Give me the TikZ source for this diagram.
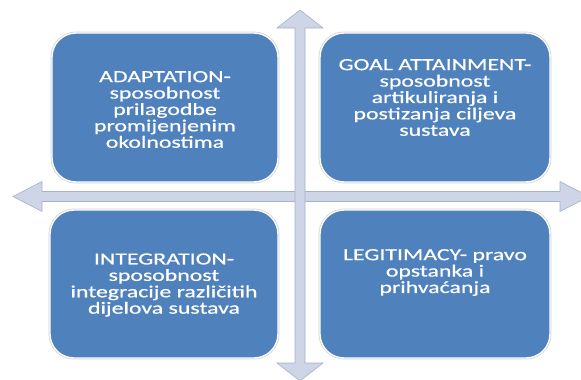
\documentclass[tikz,border=0pt]{standalone}
\usepackage{fontspec}
\setmainfont{Carlito}
\newfontfamily\boxfont[FakeStretch=1.4,FakeBold=0.6]{Carlito}
\usetikzlibrary{positioning}

\definecolor{boxblue}{RGB}{79,129,189}
\definecolor{arrowfill}{RGB}{206,213,230}
\definecolor{arrowline}{RGB}{165,177,201}

\begin{document}
\begin{tikzpicture}[x=1pt,y=-1pt,
    quad/.style={rectangle, rounded corners=24pt, fill=boxblue, draw=white, line width=1.4pt,
      preaction={draw=black!18, line width=2.8pt}},
    txt/.style={align=center, text=white, font=\boxfont\fontsize{17}{16.4}\selectfont, inner sep=0pt},
    blockarrow/.style={fill=arrowfill, draw=arrowline, line width=0.6pt}]
   \useasboundingbox (0,0) rectangle (581,380);
   \clip (0,0) rectangle (581,380);
   % block arrows
   \coordinate (left) at (13,196.5);
   \coordinate (right) at (589,196.5);
   \coordinate (top) at (300,10);
   \coordinate (bottom) at (300,381);
   \draw[blockarrow] (left) -- ++(29,-15) -- ++(0,10) -- ([xshift=-29pt,yshift=5pt]right)
      -- ++(0,-10) -- (right) -- ++(-29,15) -- ++(0,-10) -- ([xshift=29pt,yshift=-5pt]left)
      -- ++(0,10) -- cycle;
   \draw[blockarrow] (top) -- ++(23,18) -- ++(-18,0) -- ([xshift=5pt,yshift=18pt]bottom)
      -- ++(18,0) -- (bottom) -- ++(-23,-18) -- ++(18,0) -- ([xshift=-5pt,yshift=-18pt]top)
      -- ++(-18,0) -- cycle;
   % quadrants
   \node[quad, minimum width=226pt, minimum height=149pt] (tl) at (165,107.5) {};
   \node[quad, minimum width=230pt, minimum height=149pt] (tr) at (435,107.5) {};
   \node[quad, minimum width=228pt, minimum height=148pt] (bl) at (164,284) {};
   \node[quad, minimum width=230pt, minimum height=148pt] (br) at (435,284) {};
   \node[txt] (tl-text) at ([yshift=-2pt]tl.center) {ADAPTATION-\\sposobnost\\prilagodbe\\promijenjenim\\okolnostima};
   \node[txt] (tr-text) at ([yshift=10pt]tr.center) {GOAL ATTAINMENT-\\sposobnost\\artikuliranja i\\postizanja ciljeva\\sustava};
   \node[txt] (bl-text) at ([yshift=-1pt]bl.center) {INTEGRATION-\\sposobnost\\integracije različitih\\dijelova sustava};
   \node[txt] (br-text) at ([yshift=11.5pt]br.center) {LEGITIMACY- pravo\\opstanka i\\prihvaćanja};
\end{tikzpicture}
\end{document}
